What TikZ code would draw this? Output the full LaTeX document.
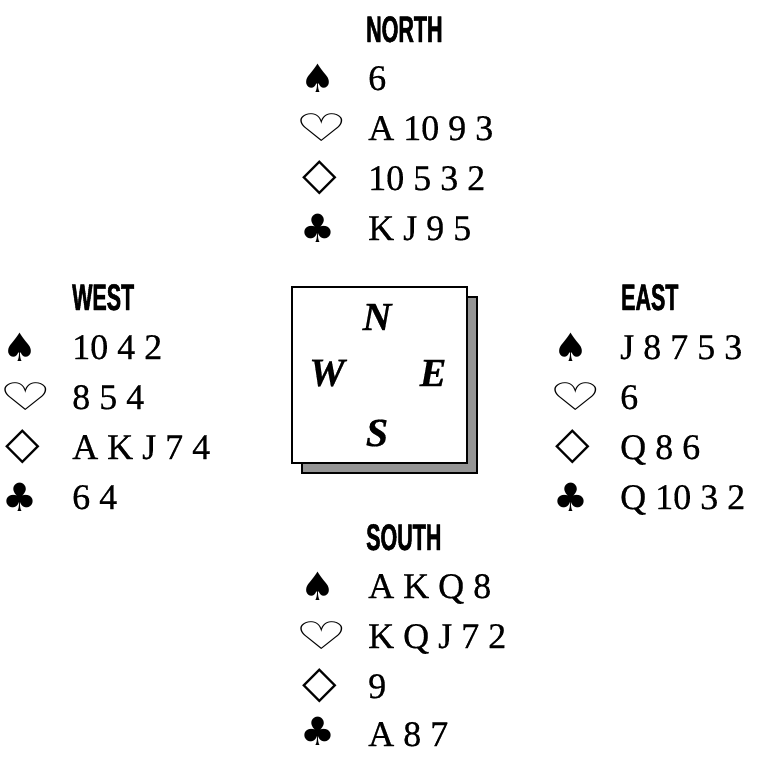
\documentclass[tikz,border=0pt]{standalone}
\usepackage{fontspec}
\setmainfont{Liberation Serif}[FakeBold=0.5]
\newfontfamily\suitfont{DejaVu Sans}
\newfontfamily\hdrfont{Liberation Sans}[UprightFont={* Bold},FakeStretch=0.58,FakeBold=1.2]
\newcommand\spd{\suitfont ♠}
\newcommand\hrt{\suitfont ♡}
\newcommand\dmd{\suitfont ◇}
\newcommand\clb{\suitfont ♣}
\tikzset{
  seat/.style={anchor=base west,inner sep=0pt,font=\hdrfont\fontsize{37}{37}\selectfont},
  cards/.style={anchor=base west,inner sep=0pt,font=\fontsize{36}{36}\selectfont},
  suit/.style={anchor=center,inner sep=0pt,font=\fontsize{39}{39}\selectfont},
  wide/.style={xscale=1.5,yscale=0.98},
  rhomb/.style={font=\fontsize{45}{45}\selectfont},
  compass/.style={anchor=center,inner sep=0pt,font=\bfseries\itshape\fontsize{40}{40}\selectfont},
  table/.style={draw=black,line width=1.4pt},
}
\begin{document}
\begin{tikzpicture}[x=1pt,y=-1pt]
\useasboundingbox (0,0) rectangle (760,756);

% table with its shadow
\draw[table,fill=black!42] (302,297) rectangle (477,473);
\draw[table,fill=white] (292,287) rectangle (467,463);
\node[compass] (cn) at (377,317) {N};
\node[compass] (cw) at (327,373) {W};
\node[compass] (ce) at (433,373) {E};
\node[compass] (cs) at (377,433) {S};

% North
\node[seat] (north) at (366,42) {NORTH};
\node[suit] (ns) at (318,78) {\spd};
\node[suit,wide] (nh) at (322,128) {\hrt};
\node[suit,rhomb] (nd) at (320,178) {\dmd};
\node[suit] (nc) at (318,228) {\clb};
\node[cards] (nst) at (368,90) {6};
\node[cards] (nht) at (368,140) {A 10 9 3};
\node[cards] (ndt) at (368,190) {10 5 3 2};
\node[cards] (nct) at (368,240) {K J 9 5};

% West
\node[seat] (west) at (72,310) {WEST};
\node[suit] (ws) at (20,347) {\spd};
\node[suit,wide] (wh) at (26,397) {\hrt};
\node[suit,rhomb] (wd) at (23,447) {\dmd};
\node[suit] (wc) at (20,497) {\clb};
\node[cards] (wst) at (72,359) {10 4 2};
\node[cards] (wht) at (72,409) {8 5 4};
\node[cards] (wdt) at (72,459) {A K J 7 4};
\node[cards] (wct) at (72,509) {6 4};

% East
\node[seat] (east) at (621,310) {EAST};
\node[suit] (es) at (571,347) {\spd};
\node[suit,wide] (eh) at (576,397) {\hrt};
\node[suit,rhomb] (ed) at (573,447) {\dmd};
\node[suit] (ec) at (571,497) {\clb};
\node[cards] (est) at (620,359) {J 8 7 5 3};
\node[cards] (eht) at (620,409) {6};
\node[cards] (edt) at (620,459) {Q 8 6};
\node[cards] (ect) at (620,509) {Q 10 3 2};

% South
\node[seat] (south) at (366,550) {SOUTH};
\node[suit] (ss) at (318,586) {\spd};
\node[suit,wide] (sh) at (322,636) {\hrt};
\node[suit,rhomb] (sd) at (320,686) {\dmd};
\node[suit] (sc) at (318,731) {\clb};
\node[cards] (sst) at (368,598) {A K Q 8};
\node[cards] (sht) at (368,648) {K Q J 7 2};
\node[cards] (sdt) at (368,698) {9};
\node[cards] (sct) at (368,746) {A 8 7};
\end{tikzpicture}
\end{document}
